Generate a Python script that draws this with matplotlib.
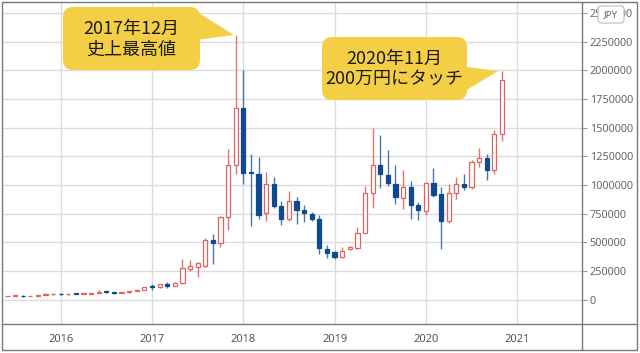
"""Monthly BTC/JPY candlestick chart with two callouts."""
import matplotlib
matplotlib.use('Agg')
import matplotlib.pyplot as plt
from matplotlib.patches import FancyBboxPatch, Polygon, Rectangle

plt.rcParams['font.family'] = ['Noto Sans', 'DejaVu Sans']

# monthly candles, Jun 2015 .. Nov 2020
months = ['2015-06', '2015-07', '2015-08', '2015-09', '2015-10', '2015-11', '2015-12',
          '2016-01', '2016-02', '2016-03', '2016-04', '2016-05', '2016-06',
          '2016-07', '2016-08', '2016-09', '2016-10', '2016-11', '2016-12',
          '2017-01', '2017-02', '2017-03', '2017-04', '2017-05', '2017-06',
          '2017-07', '2017-08', '2017-09', '2017-10', '2017-11', '2017-12',
          '2018-01', '2018-02', '2018-03', '2018-04', '2018-05', '2018-06',
          '2018-07', '2018-08', '2018-09', '2018-10', '2018-11', '2018-12',
          '2019-01', '2019-02', '2019-03', '2019-04', '2019-05', '2019-06',
          '2019-07', '2019-08', '2019-09', '2019-10', '2019-11', '2019-12',
          '2020-01', '2020-02', '2020-03', '2020-04', '2020-05', '2020-06',
          '2020-07', '2020-08', '2020-09', '2020-10', '2020-11']
opens = [28000, 32000, 35000, 28000, 29000, 37000, 45000,
         52000, 45000, 49000, 46500, 49000, 58000,
         70000, 65000, 60000, 62000, 73000, 82000,
         112000, 108000, 135000, 122000, 146000, 263000,
         280000, 292000, 524000, 490000, 721000, 1171000,
         1670000, 1115000, 1099000, 751000, 1006000, 817000,
         699000, 858000, 780000, 745000, 707000, 440000,
         411000, 373000, 437000, 451000, 582000, 930000,
         1178000, 1090000, 1012000, 890000, 983000, 823000,
         770000, 1017000, 925000, 684000, 930000, 1012000,
         983000, 1200000, 1239000, 1128000, 1442000]
highs = [33000, 40000, 36000, 30000, 40000, 60000, 57000,
         56000, 52000, 50000, 50000, 60000, 84000,
         72000, 66000, 63000, 75000, 84000, 114000,
         135000, 138000, 150000, 150000, 353000, 344000,
         329000, 533000, 568000, 727000, 1317000, 2304000,
         2005000, 1273000, 1244000, 1113000, 1070000, 858000,
         945000, 896000, 823000, 760000, 736000, 475000,
         425000, 460000, 465000, 634000, 989000, 1500000,
         1433000, 1308000, 1172000, 1128000, 1032000, 852000,
         1030000, 1151000, 983000, 1006000, 1070000, 1099000,
         1221000, 1326000, 1274000, 1477000, 1993000]
lows = [27000, 31000, 24000, 27000, 28500, 36000, 43000,
        42000, 43000, 45000, 45500, 48500, 57000,
        60000, 52000, 57000, 61000, 72000, 81000,
        85000, 105000, 100000, 118000, 140000, 251000,
        199000, 280000, 307000, 460000, 605000, 1093000,
        1012000, 645000, 707000, 684000, 800000, 649000,
        684000, 655000, 678000, 687000, 402000, 359000,
        355000, 359000, 430000, 445000, 577000, 800000,
        977000, 989000, 832000, 786000, 707000, 693000,
        736000, 896000, 437000, 664000, 881000, 960000,
        968000, 1157000, 1047000, 1093000, 1383000]
closes = [32000, 35000, 28000, 29000, 37000, 45000, 52000,
          45000, 49000, 46500, 49000, 58000, 70000,
          65000, 60000, 62000, 73000, 82000, 112000,
          108000, 135000, 122000, 146000, 272000, 292000,
          320000, 524000, 490000, 721000, 1171000, 1670000,
          1108000, 1100000, 736000, 1012000, 817000, 707000,
          858000, 780000, 751000, 707000, 446000, 408000,
          368000, 420000, 458000, 582000, 930000, 1178000,
          1093000, 1017000, 896000, 983000, 823000, 780000,
          1020000, 916000, 686000, 930000, 1012000, 983000,
          1200000, 1239000, 1128000, 1442000, 1912000]

year_ticks = [2016, 2017, 2018, 2019, 2020, 2021]
price_ticks = list(range(0, 2500001, 250000))

UP_EDGE = '#e2625f'
UP_WICK = '#e4726e'
DN_BODY = '#0f4a90'
DN_WICK = '#4a78ab'
GRID = '#dcdcdc'
FRAME = '#7a7a7a'

W, H = 640, 353
fig = plt.figure(figsize=(W / 100, H / 100), dpi=100)
fig.patch.set_facecolor('white')

# main pane: x 2..582 px, y 2..324 px
ax = fig.add_axes([2 / W, 1 - 324 / H, 580 / W, 322 / H])
t = [int(m[:4]) + (int(m[5:]) - 1) / 12 for m in months]
bw = 0.046
for x, o, h, l, c in zip(t, opens, highs, lows, closes):
    up = c >= o
    ax.vlines(x, l, h, color=UP_WICK if up else DN_WICK, lw=1.0, zorder=2)
    bot = min(o, c)
    hgt = max(abs(c - o), 7000)
    if up:
        ax.add_patch(Rectangle((x - bw / 2, bot), bw, hgt, facecolor='white',
                               edgecolor=UP_EDGE, lw=0.9, zorder=3))
    else:
        ax.add_patch(Rectangle((x - bw / 2, bot), bw, hgt, facecolor=DN_BODY,
                               edgecolor=DN_BODY, lw=0.9, zorder=3))

ax.set_xlim(2015.357, 2021.71)
ax.set_ylim(-213000, 2596000)
ax.set_xticks(year_ticks)
ax.set_xticklabels([str(y) for y in year_ticks])
ax.set_yticks(price_ticks)
ax.set_yticklabels([str(p) for p in price_ticks])
ax.yaxis.tick_right()
ax.grid(True, color=GRID, lw=1.0)
ax.set_axisbelow(True)
ax.tick_params(axis='x', length=0, pad=7, labelsize=8, labelcolor='#555555')
ax.tick_params(axis='y', length=3.5, width=0.8, color='#999999', pad=2,
               labelsize=7.8, labelcolor='#666666')
for s in ax.spines.values():
    s.set_visible(False)

# overlay in pixel coordinates for frame and callouts
ov = fig.add_axes([0, 0, 1, 1], zorder=5)
ov.set_xlim(0, W)
ov.set_ylim(H, 0)
ov.axis('off')
ov.patch.set_alpha(0)
ov.add_patch(Rectangle((2, 2), 635, 348, fill=False, edgecolor=FRAME, lw=1.0))
ov.plot([582, 582], [2, 350], color=FRAME, lw=1.0)
ov.plot([2, 637], [324, 324], color=FRAME, lw=1.0)

# JPY label box (covers the top price label, as in the source)
ov.add_patch(FancyBboxPatch((598, 6), 26, 17, boxstyle='round,pad=0,rounding_size=3',
                            facecolor='white', edgecolor='#bbbbbb', lw=0.8))
ov.text(611, 15, 'JPY', ha='center', va='center', fontsize=7, color='#666666')

YEL = '#f4cf45'
cjk = ['Noto Sans CJK JP', 'DejaVu Sans']

# callout 1
ov.add_patch(Polygon([(194, 10), (234, 35), (196, 40)], closed=True,
                     facecolor=YEL, edgecolor='none'))
ov.add_patch(FancyBboxPatch((63, 7), 137, 63, boxstyle='round,pad=0,rounding_size=10',
                            facecolor=YEL, edgecolor='none'))
ov.text(131, 39, '2017年12月\n史上最高値', ha='center', va='center', fontsize=13,
        family=cjk, color='#1a1a1a', linespacing=1.2)

# callout 2
ov.add_patch(Polygon([(460, 66), (498, 71), (452, 99)], closed=True,
                     facecolor=YEL, edgecolor='none'))
ov.add_patch(FancyBboxPatch((322, 37), 145, 63, boxstyle='round,pad=0,rounding_size=10',
                            facecolor=YEL, edgecolor='none'))
ov.text(394, 69, '2020年11月\n200万円にタッチ', ha='center', va='center', fontsize=13,
        family=cjk, color='#1a1a1a', linespacing=1.2)

fig.savefig('out.png', dpi=100)
